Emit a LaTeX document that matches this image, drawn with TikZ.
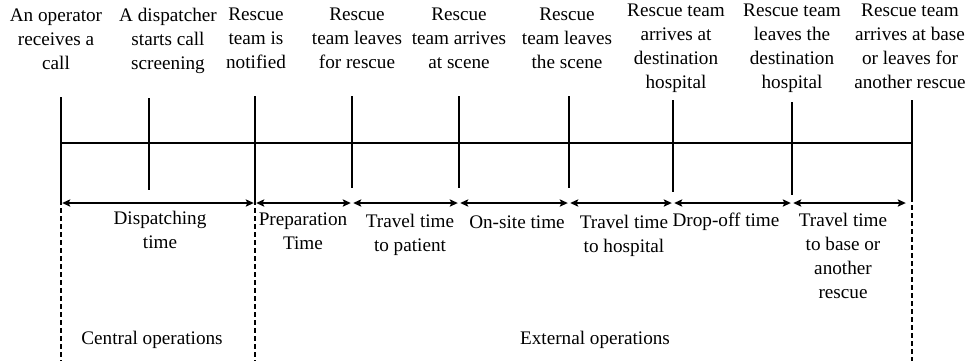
\documentclass[tikz,border=0pt]{standalone}
\usepackage{fontspec}
\setmainfont{Liberation Serif}
\usetikzlibrary{arrows.meta,positioning}

\begin{document}
\begin{tikzpicture}[x=0.5pt,y=-0.5pt,
  evt/.style={anchor=north,align=center,inner sep=0pt,
              font=\fontsize{9.6}{12}\selectfont},
  dur/.style={evt},
  tickln/.style={line width=1pt},
  axis/.style={line width=1pt},
  arr/.style={{Stealth[length=4pt,width=3.6pt,inset=0.8pt]}-{Stealth[length=4pt,width=3.6pt,inset=0.8pt]},
              line width=0.8pt,shorten <=0.6pt,shorten >=0.6pt},
  sep/.style={line width=1pt,dash pattern=on 2.7pt off 1.3pt}
]
\useasboundingbox (0,0) rectangle (967,361);
% timeline
\coordinate (t1) at (61,143);  \coordinate (t2) at (149,143); \coordinate (t3) at (255,143);
\coordinate (t4) at (352,143); \coordinate (t5) at (459,143); \coordinate (t6) at (569,143);
\coordinate (t7) at (673,143); \coordinate (t8) at (792,143); \coordinate (t9) at (912,143);
\draw[axis] (t1) -- (t9);
\draw[tickln] (61,97) -- (61,200);   \draw[tickln] (149,98) -- (149,190);
\draw[tickln] (255,96) -- (255,200); \draw[tickln] (352,96) -- (352,188);
\draw[tickln] (459,96) -- (459,188); \draw[tickln] (569,96) -- (569,188);
\draw[tickln] (673,100) -- (673,192); \draw[tickln] (792,102) -- (792,195);
\draw[tickln] (912,100) -- (912,197);
\draw[sep] (61,200) -- (61,361);
\draw[sep] (255,200) -- (255,361);
\draw[sep] (912,197) -- (912,361);
% events
\node[evt] (e1) at (56,8)   {An operator\\receives a\\call};
\node[evt] (e2) at (168,8)  {A dispatcher\\starts call\\screening};
\node[evt] (e3) at (256,8)  {Rescue\\team is\\notified};
\node[evt] (e4) at (357,8)  {Rescue\\team leaves\\for rescue};
\node[evt] (e5) at (459,8)  {Rescue\\team arrives\\at scene};
\node[evt] (e6) at (567,8)  {Rescue\\team leaves\\the scene};
\node[evt] (e7) at (676,4)  {Rescue team\\arrives at\\destination\\hospital};
\node[evt] (e8) at (792,4)  {Rescue team\\leaves the\\destination\\hospital};
\node[evt] (e9) at (910,4)  {Rescue team\\arrives at base\\or leaves for\\another rescue};
% durations
\coordinate (d1) at (61,203);  \coordinate (d2) at (255,203); \coordinate (d3) at (352,203);
\coordinate (d4) at (459,203); \coordinate (d5) at (569,203); \coordinate (d6) at (673,203);
\coordinate (d7) at (792,203); \coordinate (d8) at (907,203);
\draw[arr] (d1) -- (d2); \draw[arr] (d2) -- (d3); \draw[arr] (d3) -- (d4);
\draw[arr] (d4) -- (d5); \draw[arr] (d5) -- (d6); \draw[arr] (d6) -- (d7);
\draw[arr] (d7) -- (d8);
\node[dur] (p1) at (160,211) {Dispatching\\time};
\node[dur] (p2) at (303,212) {Preparation\\Time};
\node[dur] (p3) at (410,214) {Travel time\\to patient};
\node[dur] (p4) at (517,215) {On-site time};
\node[dur] (p5) at (624,215) {Travel time\\to hospital};
\node[dur] (p6) at (726,213) {Drop-off time};
\node[dur] (p7) at (843,213) {Travel time\\to base or\\another\\rescue};
% operations
\node[dur] (c1) at (152,331) {Central operations};
\node[dur] (c2) at (595,331) {External operations};
\end{tikzpicture}
\end{document}
